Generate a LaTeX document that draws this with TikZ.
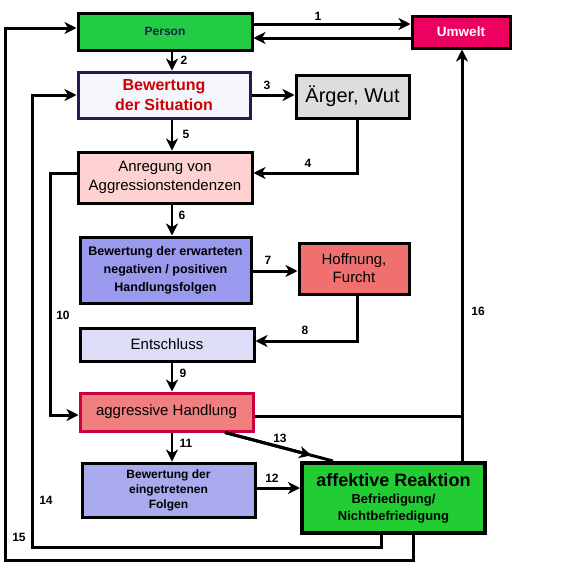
\documentclass[tikz,border=0pt]{standalone}
\usepackage{fontspec}
\setmainfont{Liberation Sans}
\usetikzlibrary{arrows.meta,calc}
\definecolor{cPerson}{RGB}{34,204,68}
\definecolor{cUmwelt}{RGB}{236,0,96}
\definecolor{cBewS}{RGB}{245,245,252}
\definecolor{cAerger}{RGB}{221,221,221}
\definecolor{cAnr}{RGB}{255,210,210}
\definecolor{cBewE}{RGB}{153,153,238}
\definecolor{cHoff}{RGB}{240,112,112}
\definecolor{cEnt}{RGB}{221,221,248}
\definecolor{cAgg}{RGB}{240,128,128}
\definecolor{cAggB}{RGB}{204,0,60}
\definecolor{cBewF}{RGB}{170,170,238}
\definecolor{cAff}{RGB}{34,204,51}
\definecolor{cNavy}{RGB}{30,30,80}
\definecolor{cRed}{RGB}{204,0,0}
\begin{document}
\begin{tikzpicture}[x=1pt,y=-1pt,
  box/.style={draw=black, line width=3pt, inner sep=0pt, align=center},
  conn/.style={line width=3pt, -{Stealth[length=12pt,width=12pt,inset=3.5pt]}},
  thinconn/.style={line width=1.2pt, -{Stealth[length=12pt,width=12pt,inset=3.5pt]}},
  plain/.style={line width=3pt},
  lbl/.style={font=\fontsize{12}{14}\selectfont\bfseries, inner sep=0pt}]
\useasboundingbox (0,0) rectangle (570,574);

% nodes
\node[box, fill=cPerson, minimum width=174, minimum height=37, text=cNavy,
  font=\fontsize{12}{14}\selectfont\bfseries] (Person) at (165,31.5) {Person};
\node[box, fill=cUmwelt, minimum width=98, minimum height=32, text=white,
  font=\fontsize{13.5}{15}\selectfont\bfseries] (Umwelt) at (461,32) {Umwelt};
\node[box, draw=cNavy, fill=cBewS, minimum width=172, minimum height=46, text=cRed,
  font=\fontsize{16}{20}\selectfont\bfseries] (BewS) at (164,95) {Bewertung\\der Situation};
\node[box, fill=cAerger, minimum width=113, minimum height=43,
  font=\fontsize{20}{22}\selectfont] (Aerger) at (352.5,96.5) {Ärger, Wut};
\node[box, fill=cAnr, minimum width=174, minimum height=51,
  font=\fontsize{15}{19}\selectfont] (Anr) at (165,177.5) {Anregung von\\Aggressionstendenzen};
\node[box, fill=cBewE, minimum width=171, minimum height=66,
  font=\fontsize{12.5}{18}\selectfont\bfseries] (BewE) at (165.5,270) {Bewertung der erwarteten\\negativen / positiven\\Handlungsfolgen};
\node[box, fill=cHoff, minimum width=110, minimum height=51,
  font=\fontsize{15}{18}\selectfont] (Hoff) at (354,268.5) {Hoffnung,\\Furcht};
\node[box, fill=cEnt, minimum width=174, minimum height=33,
  font=\fontsize{15}{18}\selectfont] (Ent) at (167,344.5) {Entschluss};
\node[box, draw=cAggB, fill=cAgg, minimum width=173, minimum height=38,
  font=\fontsize{15}{18}\selectfont] (Agg) at (166.5,412) {aggressive Handlung};
\node[box, fill=cBewF, minimum width=173, minimum height=54,
  font=\fontsize{12}{15}\selectfont\bfseries] (BewF) at (168.5,490) {Bewertung der\\eingetretenen\\Folgen};
\node[box, line width=4pt, fill=cAff, minimum width=183, minimum height=70,
  font=\fontsize{13}{17}\selectfont\bfseries] (Aff) at (393.5,498) {{\fontsize{18}{20}\selectfont affektive Reaktion}\\Befriedigung/\\Nichtbefriedigung};

% routing coordinates
\coordinate (cx) at (172,0);
\coordinate (c4) at (357,0);
\coordinate (L10) at (50,0);
\coordinate (L14) at (32,0);
\coordinate (L15) at (5,0);
\coordinate (R16) at (462,0);
\coordinate (b14) at (381,547);
\coordinate (b15) at (413,560);
\coordinate (a13) at (225,0);
\coordinate (e13) at (333,0);

% connectors
\draw[conn] ([yshift=7.5]Person.east) -- ([yshift=7.5]Person.east -| Umwelt.west);
\draw[conn] ([yshift=-6]Umwelt.west) -- ([yshift=-6]Umwelt.west -| Person.east);
\draw[thinconn] (Person.south -| cx) -- (BewS.north -| cx);
\draw[conn] (BewS.east) -- (BewS.east -| Aerger.west);
\draw[conn] (Aerger.south -| c4) |- ([yshift=4.5]Anr.east);
\draw[thinconn] (BewS.south -| cx) -- (Anr.north -| cx);
\draw[conn, line width=2.2pt] (Anr.south -| cx) -- (BewE.north -| cx);
\draw[conn] ([yshift=-1]BewE.east) -- ([yshift=-1]BewE.east -| Hoff.west);
\draw[conn] (Hoff.south -| c4) |- ([yshift=3.5]Ent.east);
\draw[conn, line width=2.2pt] (Ent.south -| cx) -- (Agg.north -| cx);
\draw[conn] ([yshift=4.5]Anr.west) -- ([yshift=4.5]Anr.west -| L10) |- ([yshift=-3]Agg.west);
\draw[thinconn] (Agg.south -| cx) -- (BewF.north -| cx);
\draw[conn] ([yshift=2]BewF.east) -- ([yshift=2]BewF.east -| Aff.west);
\draw[plain] (Agg.south -| a13) -- (Aff.north -| e13);
\draw[conn] (Agg.south -| a13) -- ($(Agg.south -| a13)!0.8!(Aff.north -| e13)$);
\draw[plain] ([yshift=-4.5]Agg.east) -- ([yshift=-4.5]Agg.east -| R16);
\draw[conn] (Aff.north -| R16) -- (Umwelt.south -| R16);
\draw[conn] (Aff.south -| b14) -- (b14) -- (b14 -| L14) |- (BewS.west);
\draw[conn] (Aff.south -| b15) -- (b15) -- (b15 -| L15) |- ([yshift=3.5]Person.west);

% labels
\node[lbl] (n1) at (318,16) {1};
\node[lbl] (n2) at (184,60) {2};
\node[lbl] (n3) at (267,85) {3};
\node[lbl] (n4) at (308,163) {4};
\node[lbl] (n5) at (186,134) {5};
\node[lbl] (n6) at (182,215) {6};
\node[lbl] (n7) at (268,260) {7};
\node[lbl] (n8) at (305,330) {8};
\node[lbl] (n9) at (183,373) {9};
\node[lbl] (n10) at (63,315) {10};
\node[lbl] (n11) at (186,443) {11};
\node[lbl] (n12) at (272,478) {12};
\node[lbl] (n13) at (280,438) {13};
\node[lbl] (n14) at (46,500) {14};
\node[lbl] (n15) at (19,537) {15};
\node[lbl] (n16) at (478,311) {16};
\end{tikzpicture}
\end{document}
